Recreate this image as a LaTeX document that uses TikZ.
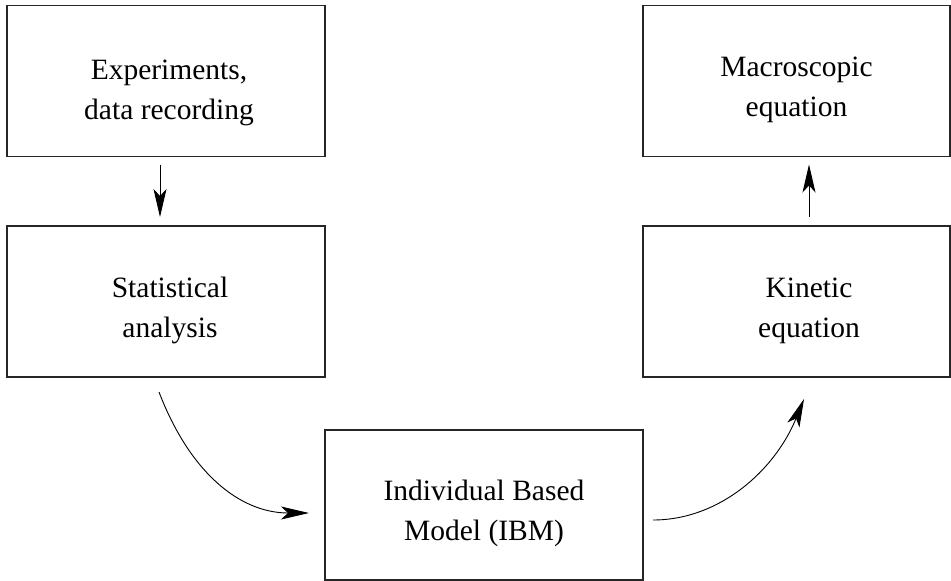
\documentclass[tikz,border=0pt]{standalone}
\usepackage{fontspec}
\setmainfont{Liberation Serif}
\usetikzlibrary{arrows.meta}
\begin{document}
\begin{tikzpicture}[x=1pt,y=-1pt,
  box/.style={draw=black!85,line width=1.3pt,minimum width=318pt,minimum height=151pt,inner sep=0pt,outer sep=0pt},
  rbox/.style={box,minimum width=307pt},
  lbl/.style={align=center,inner sep=0pt,font=\fontsize{29.5}{40}\selectfont},
  arr/.style={line width=0.9pt,-{Stealth[length=28pt,width=13pt,inset=7pt]}}]
\useasboundingbox (0,0) rectangle (951,581);
\node[box] (exp) at (166,81) {};
\node[box] (stat) at (166,301.5) {};
\node[box,minimum height=150pt] (ibm) at (484,505) {};
\node[rbox] (kin) at (796.5,301.5) {};
\node[rbox] (mac) at (796.5,81) {};
\node[lbl] (texp) at ([xshift=3pt,yshift=-12pt]exp.center) {Experiments,\\data recording};
\node[lbl] (tstat) at ([xshift=4pt,yshift=-9pt]stat.center) {Statistical\\analysis};
\node[lbl] (tibm) at ([yshift=-8pt]ibm.center) {Individual Based\\Model (IBM)};
\node[lbl] (tkin) at ([xshift=12.5pt,yshift=-9pt]kin.center) {Kinetic\\equation};
\node[lbl] (tmac) at ([yshift=-9pt]mac.center) {Macroscopic\\equation};
\draw[arr] ([xshift=-6pt,yshift=-8pt]exp.south) -- ([xshift=-6pt,yshift=9pt]stat.north);
\draw[arr] ([xshift=12.5pt,yshift=9pt]kin.north) -- ([xshift=12.5pt,yshift=-8pt]mac.south);
\draw[arr] ([xshift=-7pt,yshift=-15pt]stat.south) .. controls (190,473) and (240,513) .. ([xshift=-16pt,yshift=-8pt]ibm.west);
\draw[arr] ([xshift=10pt,yshift=-15pt]ibm.east) .. controls (720,520) and (775,470) .. ([xshift=7.5pt,yshift=-22pt]kin.south);
\end{tikzpicture}
\end{document}
